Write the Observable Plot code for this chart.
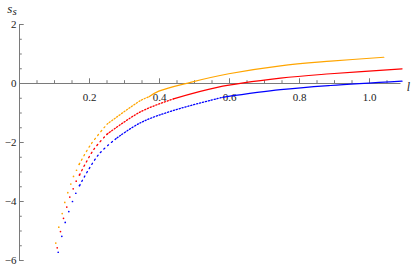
<!DOCTYPE html>
<html><head><meta charset="utf-8">
<script src="https://cdn.jsdelivr.net/npm/d3@7"></script>
<script src="https://cdn.jsdelivr.net/npm/@observablehq/plot@0.6"></script>
<style>body{margin:0;background:#fff;overflow:hidden}</style>
</head><body><div id="chart"></div>
<script>
// ---- data ----
const seriesNames = ["orange", "red", "blue"];
const seriesColors = ["#ff8000", "#ff0000", "#0000ff"];

// individually visible sample dots (steep part)
const orangeDotX = [0.1037, 0.1123, 0.1220, 0.1294, 0.1380, 0.1466, 0.1543, 0.1629, 0.1706];
const orangeDotY = [-5.41, -4.87, -4.41, -4.03, -3.70, -3.41, -3.15, -2.94, -2.74];
const redDotX = [0.1077, 0.1171, 0.1257, 0.1351, 0.1437, 0.1534, 0.1620, 0.1714];
const redDotY = [-5.57, -5.02, -4.57, -4.19, -3.85, -3.57, -3.31, -3.10];
const blueDotX = [0.1106, 0.1209, 0.1306, 0.1409, 0.1514, 0.1609, 0.1714];
const blueDotY = [-5.72, -5.18, -4.71, -4.34, -4.00, -3.72, -3.46];

// sparse-dotted stretch
const orangeSparseX = [0.1706, 0.203, 0.25];
const orangeSparseY = [-2.74, -2.08, -1.38];
const redSparseX = [0.1714, 0.212, 0.25];
const redSparseY = [-3.10, -2.24, -1.72];
const blueSparseX = [0.1714, 0.2266, 0.279];
const blueSparseY = [-3.46, -2.40, -1.84];
// fine-dotted stretch
const orangeDottedX = [0.25, 0.3457, 0.37];
const orangeDottedY = [-1.38, -0.58, -0.45];
const redDottedX = [0.25, 0.3457, 0.44];
const redDottedY = [-1.72, -0.96, -0.52];
const blueDottedX = [0.279, 0.3457, 0.441, 0.5837];
const blueDottedY = [-1.84, -1.33, -0.91, -0.46];
// stretch so dense it looks solid
const orangeSolidX = [0.37, 0.398, 0.4886, 0.598, 0.7457, 0.889, 1.041];
const orangeSolidY = [-0.45, -0.26, 0.04, 0.33, 0.60, 0.757, 0.89];
const redSolidX = [0.44, 0.565, 0.7457, 0.889, 1.093];
const redSolidY = [-0.52, -0.13, 0.18, 0.33, 0.497];
const blueSolidX = [0.5837, 0.7457, 0.889, 1.093];
const blueSolidY = [-0.46, -0.21, -0.068, 0.079];

// axis ticks
const xMajorTicks = [0.2, 0.4, 0.6, 0.8, 1.0];
const xMinorTicks = [0.05, 0.1, 0.15, 0.25, 0.3, 0.35, 0.45, 0.5, 0.55, 0.65, 0.7, 0.75, 0.85, 0.9, 0.95, 1.05];
const yMajorTicks = [-6, -4, -2, 0, 2];
const yMinorTicks = [-5.5, -5, -4.5, -3.5, -3, -2.5, -1.5, -1, -0.5, 0.5, 1, 1.5];
const xLabel = "l";
const yLabel = "s";
const yLabelSub = "s";

// ---- build tables ----
const toRows = (s, xs, ys) => xs.map((x, j) => ({s, x, y: ys[j]}));
const dots = [
  ...toRows("orange", orangeDotX, orangeDotY),
  ...toRows("red", redDotX, redDotY),
  ...toRows("blue", blueDotX, blueDotY)
];
const sparse = [
  ...toRows("orange", orangeSparseX, orangeSparseY),
  ...toRows("red", redSparseX, redSparseY),
  ...toRows("blue", blueSparseX, blueSparseY)
];
const dotted = [
  ...toRows("orange", orangeDottedX, orangeDottedY),
  ...toRows("red", redDottedX, redDottedY),
  ...toRows("blue", blueDottedX, blueDottedY)
];
const solid = [
  ...toRows("orange", orangeSolidX, orangeSolidY),
  ...toRows("red", redSolidX, redSolidY),
  ...toRows("blue", blueSolidX, blueSolidY)
];
const fmtX = d => d.toFixed(1);
const fmtY = d => d < 0 ? "\u2212" + Math.abs(d) : String(d);
const axisGray = "#7a7a7a";
const serif = "Liberation Serif, Times New Roman, serif";

const chart = Plot.plot({
  width: 415,
  height: 270,
  marginLeft: 19,
  marginRight: 14.5,
  marginTop: 24,
  marginBottom: 10,
  x: {domain: [0, 1.09], axis: null},
  y: {domain: [-6, 2], axis: null},
  color: {domain: seriesNames, range: seriesColors},
  style: {background: "white"},
  marks: [
    Plot.ruleY([0], {stroke: axisGray, strokeWidth: 1}),
    Plot.ruleX([0], {stroke: axisGray, strokeWidth: 1}),
    Plot.ruleX(xMinorTicks, {x: d => d, y1: 0, y2: 0.095, stroke: axisGray}),
    Plot.ruleX(xMajorTicks, {x: d => d, y1: 0, y2: 0.16, stroke: axisGray}),
    Plot.ruleY(yMinorTicks, {y: d => d, x1: 0, x2: 0.008, stroke: axisGray}),
    Plot.ruleY(yMajorTicks, {y: d => d, x1: 0, x2: 0.0135, stroke: axisGray}),
    Plot.text(xMajorTicks, {x: d => d, y: 0, dy: 14, text: fmtX, fontSize: 11, fill: "#222", fontFamily: serif}),
    Plot.text(yMajorTicks, {x: 0, y: d => d, dx: -3, text: fmtY, textAnchor: "end", fontSize: 11, fill: "#222", fontFamily: serif}),
    Plot.line(sparse, {
      x: "x", y: "y", z: "s", stroke: "s", curve: "catmull-rom",
      strokeWidth: 1.3, strokeDasharray: "1.3,3.6"
    }),
    Plot.line(dotted, {
      x: "x", y: "y", z: "s", stroke: "s", curve: "catmull-rom",
      strokeWidth: 1.3, strokeDasharray: "1.2,1.8"
    }),
    Plot.line(solid, {
      x: "x", y: "y", z: "s", stroke: "s", curve: "catmull-rom", strokeWidth: 1.2
    }),
    Plot.dot(dots, {x: "x", y: "y", fill: "s", r: 0.85, stroke: "none"})
  ]
});
document.getElementById("chart").appendChild(chart);

const svg = d3.select(chart);
const xs = chart.scale("x"), ys = chart.scale("y");
svg.append("text")
  .attr("x", xs.apply(1.09) + 8).attr("y", ys.apply(0) + 8)
  .attr("font-family", serif).attr("font-style", "italic").attr("font-size", 12)
  .attr("fill", "#222").text(xLabel);
const yl = svg.append("text")
  .attr("x", xs.apply(0) - 7).attr("y", ys.apply(2) - 11)
  .attr("font-family", serif).attr("font-style", "italic").attr("font-size", 13)
  .attr("fill", "#222");
yl.append("tspan").text(yLabel);
yl.append("tspan").attr("font-size", 11).attr("dy", 1.5).text(yLabelSub);
</script>
</body></html>
